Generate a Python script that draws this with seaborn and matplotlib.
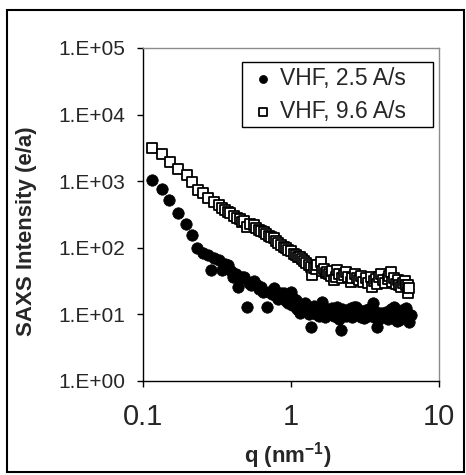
import numpy as np
import pandas as pd
import matplotlib
matplotlib.use("Agg")
import matplotlib.pyplot as plt
import seaborn as sns
from matplotlib.patches import Rectangle
from matplotlib.ticker import FixedLocator, FixedFormatter, NullLocator

# ---------------- data ----------------
series_names = ["VHF, 2.5 A/s", "VHF, 9.6 A/s"]

q_slow = [0.115, 0.134, 0.151, 0.173, 0.196, 0.214, 0.233, 0.256, 0.277, 0.288,
          0.300, 0.324, 0.342, 0.360, 0.377, 0.395, 0.408, 0.425, 0.441, 0.455,
          0.467, 0.479, 0.505, 0.52, 0.54, 0.56, 0.59, 0.61, 0.63, 0.65,
          0.69, 0.71, 0.74, 0.764, 0.79, 0.82, 0.85, 0.893, 0.92, 0.95,
          0.993, 1.02, 1.044, 1.073, 1.10, 1.13, 1.159, 1.19, 1.22, 1.25,
          1.288, 1.32, 1.356, 1.39, 1.43, 1.47, 1.51, 1.55, 1.585, 1.626,
          1.67, 1.71, 1.76, 1.80, 1.853, 1.90, 1.95, 2.0, 2.056, 2.11,
          2.166, 2.22, 2.28, 2.34, 2.404, 2.47, 2.53, 2.60, 2.666, 2.737,
          2.81, 2.884, 2.95, 3.03, 3.117, 3.2, 3.3, 3.38, 3.459, 3.556,
          3.65, 3.75, 3.839, 3.95, 4.045, 4.15, 4.258, 4.37, 4.5, 4.62,
          4.73, 4.85, 4.98, 5.11, 5.24, 5.38, 5.52, 5.65, 5.8, 5.97,
          6.13, 6.29, 6.46]
I_slow = [1035, 752, 519, 328, 224, 155, 101, 84, 78, 46,
          70, 65, 46, 58, 55, 45, 37, 40, 26, 35,
          37, 37, 13, 30, 28, 32, 27.6, 24, 26, 22,
          13, 22, 20, 24.6, 19, 17, 21, 20.7, 16, 15,
          21.9, 14, 17, 16.4, 12, 14, 10.4, 13, 11.5, 15,
          13, 10, 6.5, 12, 13.5, 10, 12, 9.5, 14, 15.5,
          11, 9, 12, 10.5, 10.4, 12.5, 9.5, 11, 13, 8.5,
          5.8, 12, 11, 9.5, 11.6, 10, 12.5, 9, 13, 13,
          10, 11.5, 9, 10, 8.7, 11.5, 9.5, 12, 10, 14.7,
          9, 11, 6.5, 8.5, 10.5, 9.5, 9.2, 11, 8.5, 10,
          12, 9, 13, 10.5, 8, 8.2, 10, 11.5, 9, 12.3,
          10, 7.8, 9.8]

q_fast = [0.1146, 0.134, 0.152, 0.173, 0.198, 0.214, 0.237, 0.256, 0.277, 0.300,
          0.324, 0.342, 0.360, 0.375, 0.389, 0.41, 0.432, 0.45, 0.467, 0.479,
          0.505, 0.53, 0.560, 0.58, 0.61, 0.63, 0.654, 0.68, 0.71, 0.735,
          0.764, 0.79, 0.82, 0.85, 0.893, 0.93, 0.96, 1.0, 1.044, 1.08,
          1.12, 1.15, 1.191, 1.23, 1.26, 1.321, 1.36, 1.392, 1.43, 1.47,
          1.51, 1.585, 1.63, 1.68, 1.72, 1.759, 1.80, 1.85, 1.90, 1.951,
          2.0, 2.056, 2.12, 2.2, 2.28, 2.34, 2.43, 2.53, 2.60, 2.7,
          2.812, 2.884, 2.98, 3.08, 3.2, 3.33, 3.459, 3.52, 3.65, 3.76,
          3.839, 3.95, 4.045, 4.2, 4.35, 4.5, 4.62, 4.73, 4.80, 4.95,
          5.11, 5.25, 5.38, 5.52, 5.7, 5.85, 5.97, 6.13, 6.2, 6.3]
I_fast = [3200, 2540, 1946, 1514, 1230, 977, 733, 654, 551, 490,
          437, 400, 367, 340, 328, 300, 276, 270, 245, 255,
          206, 230, 219, 195, 185, 180, 174, 160, 150, 145,
          138, 125, 118, 112, 104, 98, 92, 88, 82, 78,
          72, 74, 69, 63, 60, 55, 52, 39, 50, 48,
          55, 62, 45, 48, 42, 44, 40, 38, 45, 33,
          36, 46, 40, 35, 39, 44, 37, 31, 35, 40,
          35, 33, 38, 31, 35, 30, 37, 26, 32, 34,
          29, 36, 41, 33, 30, 34, 38, 44, 31, 35,
          29, 33, 28, 26, 30, 32, 28, 27.6, 20.7, 25]

x_ticks = [0.1, 1, 10]
x_tick_labels = ["0.1", "1", "10"]
y_ticks = [1, 10, 100, 1000, 10000, 100000]
y_tick_labels = ["1.E+00", "1.E+01", "1.E+02", "1.E+03", "1.E+04", "1.E+05"]

df_slow = pd.DataFrame({"q": q_slow, "I": I_slow})
df_fast = pd.DataFrame({"q": q_fast, "I": I_fast})

# ---------------- style ----------------
sns.set_style("white")
plt.rcParams["font.family"] = ["Liberation Sans", "DejaVu Sans"]
plt.rcParams["mathtext.fontset"] = "custom"
plt.rcParams["mathtext.rm"] = "Liberation Sans"
plt.rcParams["mathtext.bf"] = "Liberation Sans:bold"

W, H = 466, 475
fig = plt.figure(figsize=(W / 100, H / 100), dpi=100)
fig.patch.set_facecolor("white")

ax_l, ax_r, ax_t, ax_b = 143, 439, 48, 381
ax = fig.add_axes([ax_l / W, 1 - ax_b / H, (ax_r - ax_l) / W, (ax_b - ax_t) / H])
ax.set_facecolor("white")

sns.scatterplot(data=df_slow, x="q", y="I", ax=ax, marker="o", s=68,
                color="black", edgecolor="black", linewidth=0.5,
                label=series_names[0], zorder=3)
sns.scatterplot(data=df_fast, x="q", y="I", ax=ax, marker="s", s=60,
                facecolor="white", edgecolor="black", linewidth=1.3,
                label=series_names[1], zorder=2)

ax.set_xscale("log")
ax.set_yscale("log")
ax.set_xlim(0.1, 10)
ax.set_ylim(1, 1e5)

ax.xaxis.set_major_locator(FixedLocator(x_ticks))
ax.xaxis.set_major_formatter(FixedFormatter(x_tick_labels))
ax.xaxis.set_minor_locator(NullLocator())
ax.yaxis.set_major_locator(FixedLocator(y_ticks))
ax.yaxis.set_major_formatter(FixedFormatter(y_tick_labels))
ax.yaxis.set_minor_locator(NullLocator())

ax.tick_params(axis="x", which="major", direction="out", length=4, width=1,
               color="black", labelsize=21, pad=12, bottom=True)
ax.tick_params(axis="y", which="major", direction="out", length=4, width=1,
               color="black", labelsize=15, pad=9, left=True)

for side in ["left", "bottom"]:
    ax.spines[side].set_color("black")
    ax.spines[side].set_linewidth(1.0)
for side in ["top", "right"]:
    ax.spines[side].set_color("#8c8c8c")
    ax.spines[side].set_linewidth(1.0)

ax.set_xlabel(r"q (nm$^{\mathbf{-1}}$)", fontsize=16, fontweight="bold", va="center")
ax.xaxis.set_label_coords((288 - ax_l) / (ax_r - ax_l), -(456 - ax_b) / (ax_b - ax_t))
ax.set_ylabel("SAXS Intensity (e/a)", fontsize=16, fontweight="bold", va="center")
ax.yaxis.set_label_coords(-(143 - 27) / (ax_r - ax_l), 1 - (231 - ax_t) / (ax_b - ax_t))

# legend
lx0, lx1, ly0, ly1 = 242, 433, 62, 127
leg = ax.legend(loc="upper left",
                bbox_to_anchor=((lx0 - ax_l) / (ax_r - ax_l), 1 - (ly1 - ax_t) / (ax_b - ax_t),
                                (lx1 - lx0) / (ax_r - ax_l), (ly1 - ly0) / (ax_b - ax_t)),
                mode="expand", borderaxespad=0, fontsize=16.5, frameon=True,
                fancybox=False, edgecolor="black", framealpha=1,
                borderpad=0.2, labelspacing=0.45, handlelength=1.4,
                handletextpad=0.05, markerscale=0.7)
leg.get_frame().set_linewidth(1.0)

# outer chart border
fig.patches.append(Rectangle((7 / W, 1 - 472 / H), (464 - 7) / W, (472 - 10) / H,
                             transform=fig.transFigure, fill=False,
                             edgecolor="black", linewidth=1.5))

fig.savefig("out.png", dpi=100, facecolor="white")
